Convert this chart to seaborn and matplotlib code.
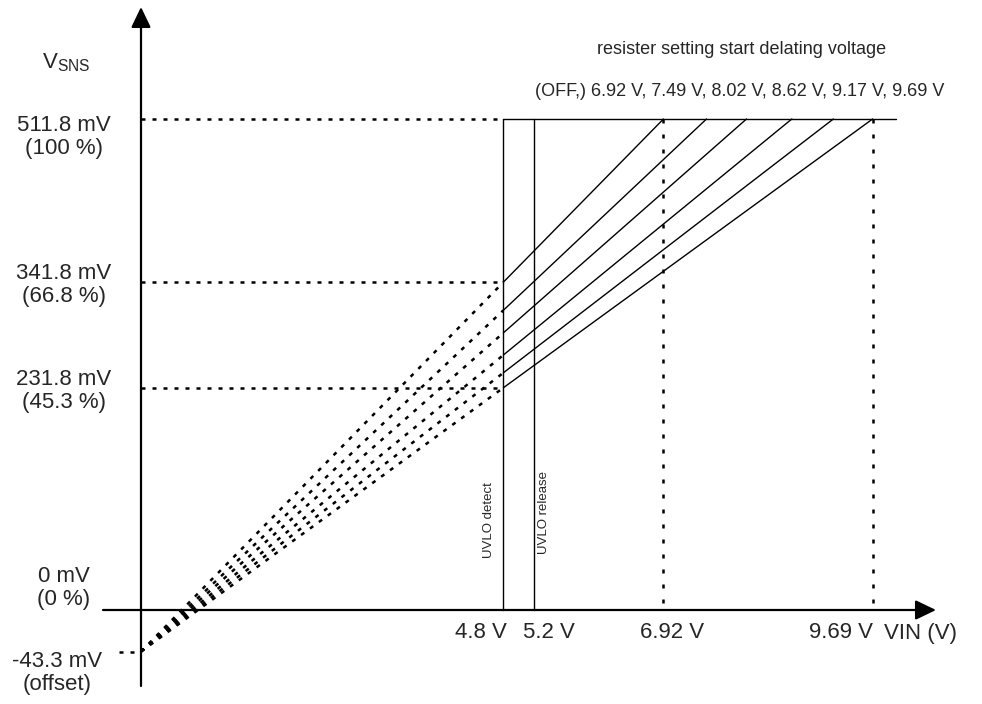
import numpy as np
import pandas as pd
import matplotlib
matplotlib.use("Agg")
import matplotlib.pyplot as plt
import seaborn as sns

# ---- data ----
start_voltages = [6.92, 7.49, 8.02, 8.62, 9.17, 9.69]   # V, derating start (resistor setting)
vsns_full = 511.8            # mV (100 %)
vsns_offset = -43.3          # mV (offset)
level_mv = [511.8, 341.8, 231.8]          # dotted reference levels
level_text = ["511.8 mV\n(100 %)", "341.8 mV\n(66.8 %)", "231.8 mV\n(45.3 %)"]
uvlo_detect = 4.8            # V
uvlo_release = 5.2           # V
marked_starts = [6.92, 9.69]  # V, dotted verticals
top_end = 10.0               # V, end of the 100 % plateau line
x_tick_text = ["4.8 V", "5.2 V", "6.92 V", "9.69 V"]

sns.set_theme(style="white")
plt.rcParams["font.family"] = ["Liberation Sans", "DejaVu Sans"]
plt.rcParams["mathtext.fontset"] = "custom"
plt.rcParams["mathtext.rm"] = "Liberation Sans"
plt.rcParams["mathtext.it"] = "Liberation Sans"

W, H = 982, 704
fig = plt.figure(figsize=(W / 100, H / 100), dpi=100)
ax = fig.add_axes([0, 0, 1, 1])
# pixel mapping: VIN=0 -> x=141 px, 75.5 px/V ; VSNS=0 -> y=610 px, 0.95936 px/mV
XS, X0 = 75.5, 141
YS, Y0 = 0.95936, 610
ax.set_xlim(-X0 / XS, (W - X0) / XS)
ax.set_ylim((Y0 - H) / YS, Y0 / YS)
ax.axis("off")

def fx(px):
    return px / W

def fy(py):
    return 1 - py / H

K = "black"
dot_h = dict(color=K, lw=1.8, dashes=(1.6, 2.8), dash_capstyle="butt", solid_capstyle="butt")
dot_v = dict(color=K, lw=1.8, dashes=(1.6, 4.4), dash_capstyle="butt")

# ---- lines: dotted extension (0 .. UVLO detect) and solid part (UVLO detect .. start) ----
rows = []
for vs in start_voltages:
    slope = (vsns_full - vsns_offset) / vs
    # dotted part
    xd = np.array([0.0, uvlo_detect])
    ax.plot(xd, vsns_offset + slope * xd, **dot_h)
    for v in (uvlo_detect, vs):
        rows.append({"VIN": v, "VSNS": vsns_offset + slope * v, "setting": f"{vs} V"})
df = pd.DataFrame(rows)
sns.lineplot(data=df, x="VIN", y="VSNS", units="setting", estimator=None,
             color=K, lw=1.0, ax=ax, legend=False, sort=True)

# top plateau
sns.lineplot(x=[uvlo_detect, top_end], y=[vsns_full, vsns_full], color=K, lw=1.0, ax=ax)

# UVLO verticals
for v in (uvlo_detect, uvlo_release):
    ax.plot([v, v], [0, vsns_full], color=K, lw=1.0)

# dotted verticals at start voltages
for v in marked_starts:
    ax.plot([v, v], [vsns_full, 0], **dot_v)

# dotted horizontal levels
for m in level_mv:
    ax.plot([0, uvlo_detect], [m, m], **dot_h)
# offset marker
ax.plot([-0.29, 0], [vsns_offset, vsns_offset], **dot_h)

# ---- axes arrows ----
arrow = dict(arrowstyle="-|>,head_length=1.25,head_width=0.6", color=K, lw=1.6,
             shrinkA=0, shrinkB=0, mutation_scale=10)
ax.annotate("", xy=(0, (Y0 - 7) / YS), xytext=(0, (Y0 - 686) / YS), arrowprops=arrow)
ax.annotate("", xy=((936 - X0) / XS, 0), xytext=((103 - X0) / XS, 0), arrowprops=arrow)

# ---- texts ----
fs = 16
ax.text(fx(66), fy(63), r"V$_{\mathrm{SNS}}$", transform=fig.transFigure,
        ha="center", va="center", fontsize=fs)
left_pos = [(64, 137), (64, 285), (64, 391)]
for (px, py), t in zip(left_pos, level_text):
    ax.text(fx(px), fy(py), t, transform=fig.transFigure, ha="center", va="center",
            multialignment="center", fontsize=fs, linespacing=1.15)
ax.text(fx(64), fy(588), "0 mV\n(0 %)", transform=fig.transFigure, ha="center", va="center",
        multialignment="center", fontsize=fs, linespacing=1.15)
ax.text(fx(57), fy(673), "-43.3 mV\n(offset)", transform=fig.transFigure, ha="center",
        va="center", multialignment="center", fontsize=fs, linespacing=1.15)

tick_px = [481, 549, 672, 841]
for px, t in zip(tick_px, x_tick_text):
    ax.text(fx(px), fy(633), t, transform=fig.transFigure, ha="center", va="center", fontsize=fs)
ax.text(fx(921), fy(633), "VIN (V)", transform=fig.transFigure, ha="center", va="center", fontsize=fs)

ax.text(fx(742), fy(49), "resister setting start delating voltage", transform=fig.transFigure,
        ha="center", va="center", fontsize=13)
ax.text(fx(740), fy(92), "(OFF,) " + ", ".join(f"{v:.2f} V" for v in start_voltages),
        transform=fig.transFigure, ha="center", va="center", fontsize=13)

ax.text(fx(488.5), fy(520), "UVLO detect", transform=fig.transFigure, rotation=90,
        ha="center", va="center", fontsize=9.5)
ax.text(fx(544), fy(513), "UVLO release", transform=fig.transFigure, rotation=90,
        ha="center", va="center", fontsize=9.5)

fig.savefig("out.png", dpi=100, facecolor="white")
